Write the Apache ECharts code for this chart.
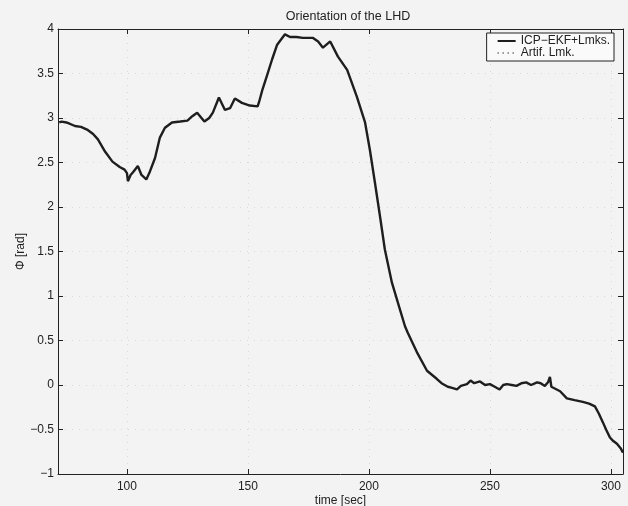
<!DOCTYPE html>
<html><head><meta charset="utf-8">
<script src="https://cdn.jsdelivr.net/npm/echarts@6/dist/echarts.min.js"></script>
<style>html,body{margin:0;padding:0;background:#f3f3f3;}#c{width:628px;height:506px;}</style>
</head><body><div id="c"></div>
<script>
const timeSec = [72,73,75,78.5,81,83.5,86,88,91,94,97,99,100,100.4,101.5,102.5,104.5,106,108,109.5,111.6,113.6,115.7,118.6,122,125,127,129,132,134,135.5,138,140.5,142.6,144.6,147.5,150.8,154,154.6,156,157.9,160,162,165.3,167.4,170,172.7,176.9,179,181,184,187.2,191,195,198.4,200.4,202.5,204.6,206.6,209.5,212.8,214.9,216,219.8,224,228,230,232.6,234,236.4,238,240.5,242,243.5,245.9,248,250,252,254,255.5,257,259,261,263,265,267,269.5,271,272.7,274,274.8,275.4,276,279,281.8,285,288.4,291,293.4,295,296.7,298,299.6,301,302.5,304,305];
const phiEKF = [2.95,2.96,2.95,2.91,2.90,2.87,2.82,2.76,2.62,2.51,2.45,2.42,2.38,2.29,2.36,2.39,2.46,2.36,2.31,2.40,2.55,2.78,2.89,2.95,2.96,2.97,3.02,3.06,2.96,3.00,3.06,3.23,3.09,3.11,3.22,3.17,3.14,3.13,3.18,3.32,3.48,3.66,3.82,3.94,3.91,3.91,3.90,3.90,3.86,3.79,3.86,3.69,3.54,3.24,2.95,2.64,2.27,1.89,1.52,1.15,0.85,0.66,0.59,0.37,0.16,0.07,0.02,-0.02,-0.03,-0.05,-0.01,0.01,0.05,0.02,0.04,0.00,0.01,-0.02,-0.05,0.00,0.01,0.00,-0.01,0.02,0.03,0.00,0.03,0.02,-0.01,0.03,0.09,-0.02,-0.01,-0.07,-0.15,-0.17,-0.19,-0.21,-0.24,-0.32,-0.42,-0.50,-0.59,-0.63,-0.66,-0.71,-0.76];
const phiArtif = [];
const xTicks = [100,150,200,250,300];
const seriesNames = ['ICP\u2212EKF+Lmks.','Artif. Lmk.'];

const chart = echarts.init(document.getElementById('c'));
const font = 'Liberation Sans, Arial, sans-serif';
const axisCol = '#222';
const ekfData = timeSec.map((t,i)=>[t,phiEKF[i]]);
const artifData = phiArtif.map(p=>p);
chart.setOption({
  backgroundColor:'#f3f3f3',
  animation:false,
  title:{text:'Orientation of the LHD',left:343,textAlign:'center',top:5,
    textStyle:{fontFamily:font,fontSize:12.5,fontWeight:'normal',color:'#222'}},
  legend:{
    right:14,top:33,orient:'vertical',
    backgroundColor:'#fafafa',borderColor:'#222',borderWidth:1,borderRadius:0,
    padding:[2,4,2,10],itemGap:0,itemWidth:18,itemHeight:9,
    itemStyle:{opacity:0},
    textStyle:{fontFamily:font,fontSize:12,lineHeight:11,color:'#222'},
    data:[{name:seriesNames[0]},{name:seriesNames[1]}]
  },
  grid:{left:58,right:5,top:29,bottom:32,containLabel:false,outerBoundsMode:'none'},
  xAxis:[{
    type:'value',min:71.5,max:305,position:'bottom',
    name:'time [sec]',nameLocation:'middle',nameGap:21,nameMoveOverlap:false,
    nameTextStyle:{fontFamily:font,fontSize:12,color:'#222'},
    axisLine:{show:true,onZero:false,lineStyle:{color:axisCol,width:1}},
    axisTick:{show:true,inside:true,length:5,customValues:xTicks,lineStyle:{color:axisCol}},
    axisLabel:{customValues:xTicks,fontFamily:font,fontSize:12,color:'#222',margin:7},
    splitLine:{show:true,lineStyle:{color:'#d8d8d8',type:[1,6],width:1}}
  },{
    type:'value',min:71.5,max:305,position:'top',
    axisLine:{show:true,onZero:false,lineStyle:{color:axisCol,width:1}},
    axisTick:{show:true,inside:true,length:5,customValues:xTicks,lineStyle:{color:axisCol}},
    axisLabel:{show:false},splitLine:{show:false}
  }],
  yAxis:[{
    type:'value',min:-1,max:4,interval:0.5,position:'left',
    name:'\u03A6 [rad]',nameLocation:'middle',nameGap:31,nameRotate:90,nameMoveOverlap:false,
    nameTextStyle:{fontFamily:font,fontSize:12,color:'#222'},
    axisLine:{show:true,onZero:false,lineStyle:{color:axisCol,width:1}},
    axisTick:{show:true,inside:true,length:5,lineStyle:{color:axisCol}},
    axisLabel:{fontFamily:font,fontSize:12,color:'#222',margin:4,
      formatter:v=>String(v).replace('-','\u2212')},
    splitLine:{show:true,lineStyle:{color:'#d8d8d8',type:[1,6],width:1}}
  },{
    type:'value',min:-1,max:4,interval:0.5,position:'right',
    axisLine:{show:true,onZero:false,lineStyle:{color:axisCol,width:1}},
    axisTick:{show:true,inside:true,length:5,lineStyle:{color:axisCol}},
    axisLabel:{show:false},splitLine:{show:false}
  }],
  series:[{
    name:seriesNames[0],type:'line',xAxisIndex:0,yAxisIndex:0,
    data:ekfData,showSymbol:false,symbol:'none',
    lineStyle:{color:'#1e1e1e',width:2.4},itemStyle:{color:'#1e1e1e'}
  },{
    name:seriesNames[1],type:'line',xAxisIndex:0,yAxisIndex:0,
    data:artifData,showSymbol:false,symbol:'none',
    lineStyle:{color:'#666',width:1,type:[1,4]},itemStyle:{color:'#666'}
  }]
});
</script></body></html>
